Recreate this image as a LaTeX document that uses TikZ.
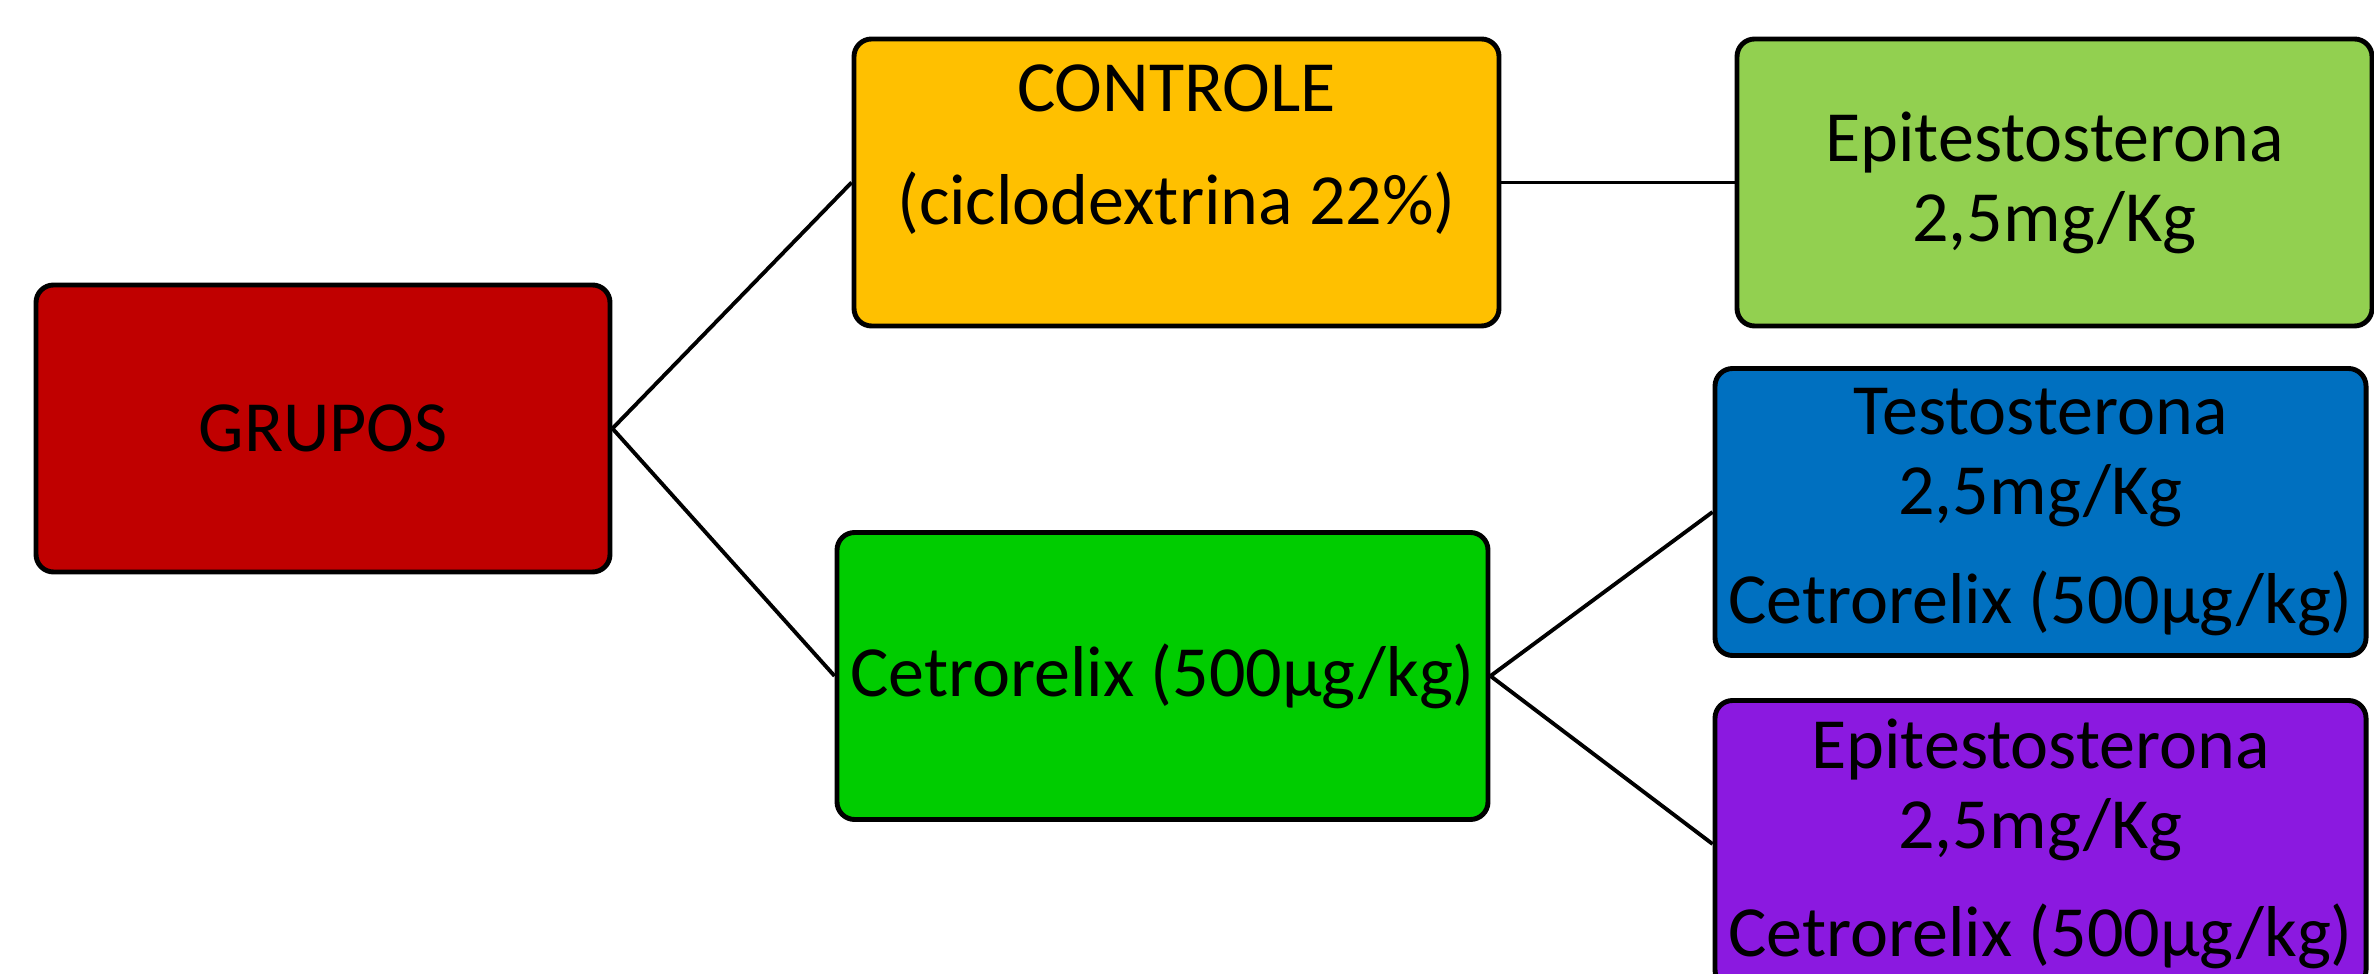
\documentclass[tikz,border=0pt]{standalone}
\usepackage{fontspec}
\setmainfont{Carlito}
\definecolor{grpred}{HTML}{C00000}
\definecolor{ctrlyellow}{HTML}{FFC000}
\definecolor{epigreen}{HTML}{92D050}
\definecolor{cetgreen}{HTML}{00CC00}
\definecolor{testblue}{HTML}{0070C0}
\definecolor{epipurple}{HTML}{8B19E0}

\begin{document}
\begin{tikzpicture}[
    box/.style={draw=black, line width=1.4pt, rounded corners=5pt,
                minimum width=#1, minimum height=2.87cm, inner sep=0pt,
                font=\fontsize{20.5}{22.8}\selectfont, align=center},
    box/.default=6.51cm,
    lbl/.style={inner sep=0pt, font=\fontsize{20.5}{22.8}\selectfont, align=center},
    conn/.style={draw=black, line width=1.1pt}]
    \useasboundingbox (0,0) rectangle (23.74,9.73);
    \node[box=5.74cm, fill=grpred] (grupos) at (3.23,5.445) {GRUPOS};
    \node[box=6.45cm, fill=ctrlyellow] (controle) at (11.765,7.905) {};
    \node[lbl] (controletxt) at (11.765,8.23) {CONTROLE\\[9.4pt](ciclodextrina 22\%)};
    \node[box=6.35cm, fill=epigreen] (epi) at (20.545,7.905) {Epitestosterona\\2,5mg/Kg};
    \node[box, fill=cetgreen] (cetro) at (11.625,2.97) {Cetrorelix (500µg/kg)};
    \node[box, fill=testblue] (testo) at (20.405,4.61)
        {Testosterona\\2,5mg/Kg\\[8pt]Cetrorelix (500µg/kg)};
    \node[box, fill=epipurple] (epicetro) at (20.405,1.29)
        {Epitestosterona\\2,5mg/Kg\\[8pt]Cetrorelix (500µg/kg)};
    % ligacoes
    \draw[conn] (grupos.east) -- (controle.west);
    \draw[conn] (grupos.east) -- (cetro.west);
    \draw[conn] (controle.east) -- (epi.west);
    \draw[conn] (cetro.east) -- (testo.west);
    \draw[conn] (cetro.east) -- (epicetro.west);
\end{tikzpicture}
\end{document}
